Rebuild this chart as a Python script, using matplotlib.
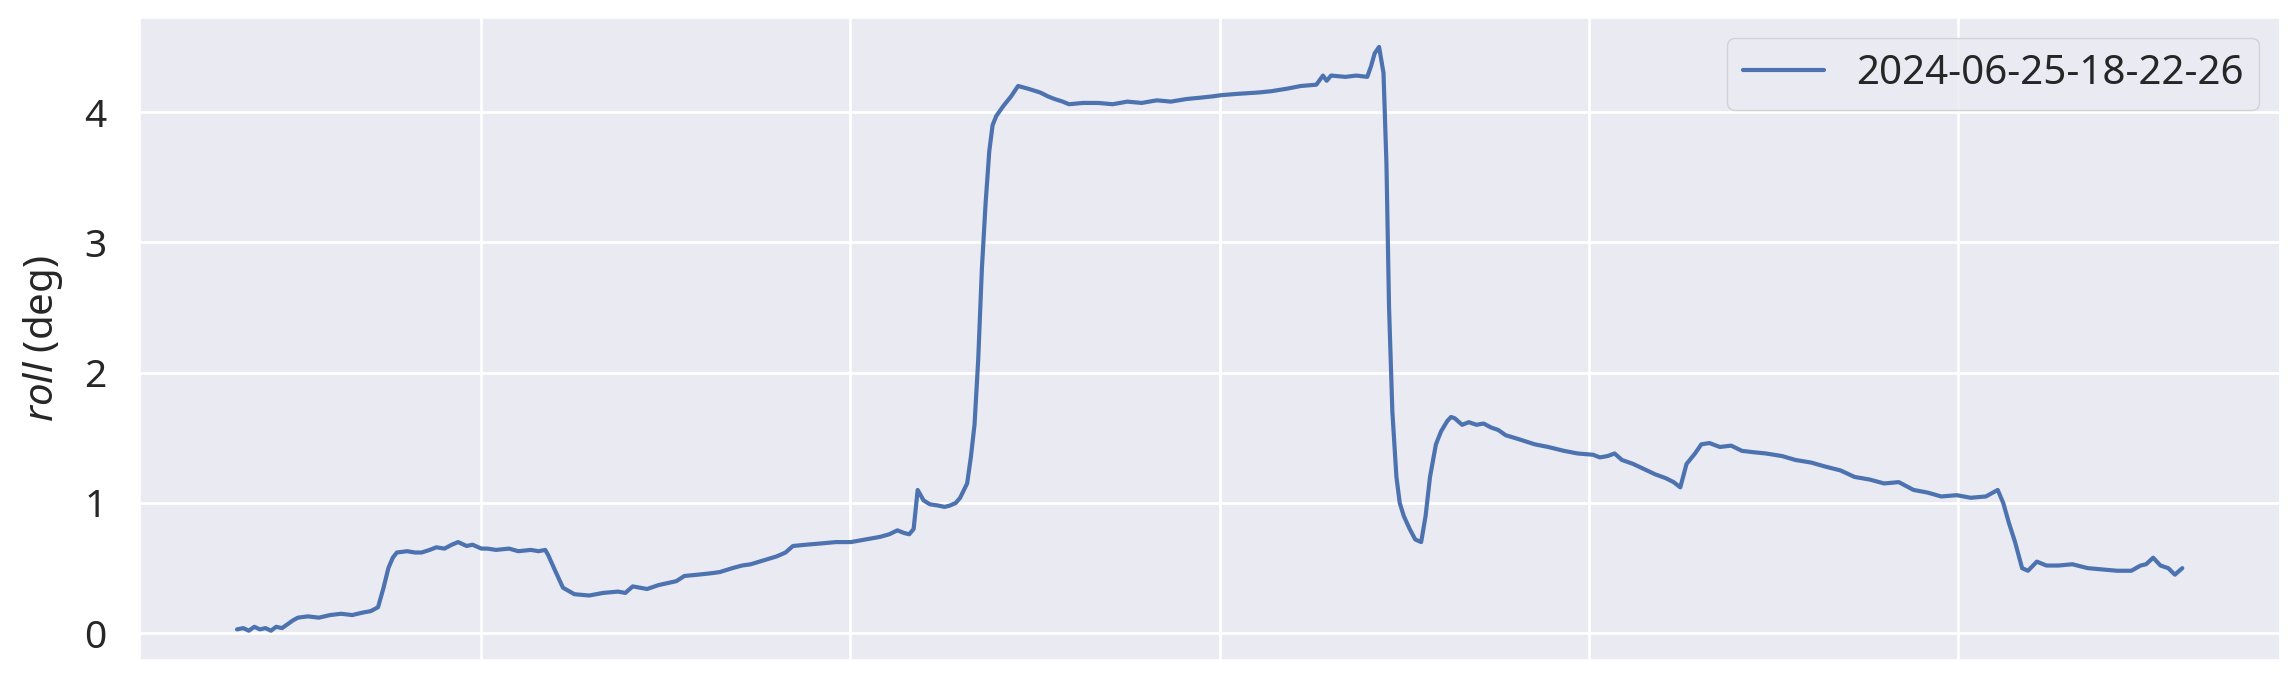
import matplotlib
matplotlib.use("Agg")
import matplotlib.pyplot as plt
import seaborn as sns

# roll trace: (time s, roll deg)
trace = [
    (33.8, 0.03), (35.5, 0.04), (37.0, 0.02), (38.5, 0.05), (40.0, 0.03), (41.5, 0.04),
    (43.0, 0.02), (44.4, 0.05), (46.0, 0.04), (47.5, 0.07), (49.0, 0.10), (50.3, 0.12),
    (53.0, 0.13), (56.0, 0.12), (59.0, 0.14), (62.0, 0.15), (65.0, 0.14), (68.0, 0.16),
    (70.0, 0.17), (72.0, 0.20), (73.5, 0.35), (74.8, 0.50), (76.0, 0.58), (77.1, 0.62),
    (79.9, 0.63), (82.0, 0.62), (83.8, 0.62), (86.0, 0.64), (87.8, 0.66), (90.0, 0.65),
    (92.0, 0.68), (93.7, 0.70), (96.0, 0.67), (97.6, 0.68), (100.0, 0.65), (101.6, 0.65),
    (104.0, 0.64), (107.5, 0.65), (110.0, 0.63), (113.4, 0.64), (115.5, 0.63), (117.3, 0.64),
    (118.1, 0.60), (120.0, 0.48), (122.1, 0.35), (125.2, 0.30), (129.2, 0.29), (133.0, 0.31),
    (137.0, 0.32), (139.0, 0.31), (141.0, 0.36), (144.9, 0.34), (148.0, 0.37), (152.8, 0.40),
    (155.0, 0.44), (158.7, 0.45), (162.0, 0.46), (164.6, 0.47), (168.0, 0.50), (170.6, 0.52),
    (173.0, 0.53), (176.5, 0.56), (180.0, 0.59), (182.4, 0.62), (184.4, 0.67), (188.0, 0.68),
    (192.2, 0.69), (196.0, 0.70), (200.1, 0.70), (204.0, 0.72), (208.0, 0.74), (210.5, 0.76),
    (212.7, 0.79), (214.5, 0.77), (215.9, 0.76), (217.1, 0.80), (218.2, 1.10), (219.8, 1.02),
    (221.5, 0.99), (223.8, 0.98), (225.5, 0.97), (226.9, 0.98), (228.5, 1.00), (229.7, 1.04),
    (231.6, 1.15), (232.6, 1.35), (233.6, 1.60), (234.6, 2.10), (235.6, 2.80), (236.6, 3.30),
    (237.6, 3.70), (238.5, 3.90), (239.5, 3.97), (241.5, 4.05), (243.5, 4.12), (245.4, 4.20),
    (248.0, 4.18), (251.4, 4.15), (253.5, 4.12), (255.3, 4.10), (257.5, 4.08), (259.2, 4.06),
    (263.0, 4.07), (267.1, 4.07), (271.0, 4.06), (275.0, 4.08), (278.9, 4.07), (283.0, 4.09),
    (286.8, 4.08), (291.0, 4.10), (294.7, 4.11), (298.0, 4.12), (300.6, 4.13), (305.0, 4.14),
    (310.5, 4.15), (314.0, 4.16), (318.4, 4.18), (322.0, 4.20), (326.2, 4.21), (328.0, 4.28),
    (329.0, 4.24), (330.2, 4.28), (334.1, 4.27), (337.0, 4.28), (340.0, 4.27), (341.0, 4.35),
    (342.0, 4.45), (343.2, 4.50), (344.4, 4.30), (345.2, 3.60), (345.9, 2.50), (346.8, 1.70),
    (347.9, 1.20), (348.8, 1.00), (349.9, 0.90), (351.5, 0.80), (353.0, 0.72), (354.6, 0.70),
    (355.8, 0.90), (357.0, 1.20), (358.6, 1.45), (360.0, 1.55), (361.7, 1.63), (362.7, 1.66),
    (363.7, 1.65), (365.7, 1.60), (367.5, 1.62), (369.6, 1.60), (371.5, 1.61), (373.5, 1.58),
    (375.5, 1.56), (377.5, 1.52), (381.0, 1.49), (385.4, 1.45), (389.0, 1.43), (393.3, 1.40),
    (397.0, 1.38), (401.2, 1.37), (403.0, 1.35), (405.1, 1.36), (407.0, 1.38), (409.0, 1.33),
    (412.0, 1.30), (415.0, 1.26), (418.0, 1.22), (420.9, 1.19), (423.0, 1.16), (424.8, 1.12),
    (426.5, 1.30), (428.8, 1.38), (430.5, 1.45), (432.7, 1.46), (435.5, 1.43), (438.6, 1.44),
    (441.5, 1.40), (444.5, 1.39), (448.0, 1.38), (452.4, 1.36), (456.0, 1.33), (460.3, 1.31),
    (464.0, 1.28), (468.2, 1.25), (472.0, 1.20), (476.1, 1.18), (480.0, 1.15), (484.0, 1.16),
    (488.0, 1.10), (491.8, 1.08), (495.5, 1.05), (499.7, 1.06), (503.5, 1.04), (507.6, 1.05),
    (510.8, 1.10), (512.3, 1.00), (513.8, 0.85), (515.5, 0.70), (517.4, 0.50), (519.0, 0.48),
    (521.4, 0.55), (524.0, 0.52), (527.3, 0.52), (531.0, 0.53), (535.2, 0.50), (539.0, 0.49),
    (543.1, 0.48), (547.0, 0.48), (549.5, 0.52), (551.0, 0.53), (552.9, 0.58), (554.9, 0.52),
    (557.0, 0.50), (558.8, 0.45), (560.8, 0.50),
]
t = [p[0] for p in trace]
roll = [p[1] for p in trace]
label = "2024-06-25-18-22-26"

sns.set_theme(style="darkgrid", rc={"grid.linewidth": 2.0})
plt.rcParams["font.family"] = ["Noto Sans", "DejaVu Sans"]
plt.rcParams["mathtext.fontset"] = "custom"
plt.rcParams["mathtext.it"] = "Noto Sans:italic"
plt.rcParams["mathtext.rm"] = "Noto Sans"

fig, ax = plt.subplots(figsize=(22.91, 6.81), dpi=100)
fig.subplots_adjust(left=0.061, right=0.995, top=0.974, bottom=0.031)

ax.plot(t, roll, color="#4c72b0", lw=3, label=label)
ax.tick_params(axis="x", labelbottom=False)
ax.tick_params(axis="y", labelsize=28, pad=18)
ax.set_ylabel("$roll$ (deg)", fontsize=29, labelpad=14)
ax.legend(loc="upper right", fontsize=29)

fig.savefig("out.png")
